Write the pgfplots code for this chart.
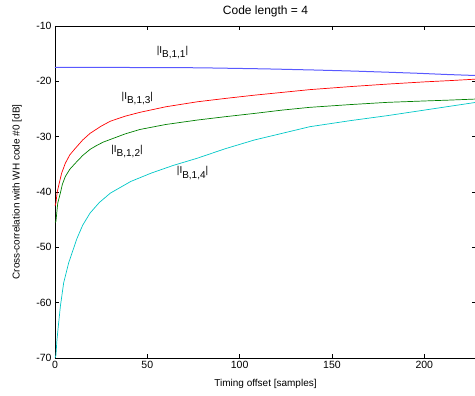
\documentclass[border=0pt]{standalone}
\usepackage{pgfplots}
\pgfplotsset{compat=1.18}
\usepackage{fontspec}
\setmainfont{Liberation Sans}
\definecolor{mblue}{rgb}{0.35,0.35,1}
\definecolor{mgreen}{rgb}{0,0.5,0}
\definecolor{mred}{rgb}{1,0,0}
\definecolor{mcyan}{rgb}{0,0.78,0.78}
\newcommand{\lab}[1]{|I\raisebox{-0.45em}{#1}|}
\begin{document}
\begin{tikzpicture}
\begin{axis}[
  width=421pt, height=332pt, scale only axis,
  xmin=0, xmax=228, ymin=-70, ymax=-10,
  xtick={0,50,100,150,200},
  ytick={-70,-60,-50,-40,-30,-20,-10},
  tick align=inside,
  major tick length=4pt,
  tick style={black, line width=0.5pt},
  axis line style={black, line width=0.8pt},
  /pgf/number format/assume math mode=true,
  ticklabel style={font=\fontsize{10.5}{12}\selectfont},
  every axis title shift=0pt,
  title={Code length = 4},
  title style={at={(axis description cs:0.5,1.045)}, anchor=center, font=\fontsize{12}{14}\selectfont},
  xlabel={Timing offset [samples]},
  xlabel style={at={(axis description cs:0.5,-0.078)}, anchor=center, font=\fontsize{10}{12}\selectfont},
  ylabel={Cross-correlation with WH code \#0 [dB]},
  ylabel style={at={(axis description cs:-0.09,0.5)}, anchor=center, rotate=0, font=\fontsize{10}{12}\selectfont},
  every axis plot/.append style={line width=0.7pt},
]
\addplot[mblue, line width=1pt] coordinates {
(0,-17.5) (40,-17.5) (78,-17.55) (114,-17.75) (140,-17.95) (162,-18.15) (180,-18.35) (197,-18.55) (211,-18.75) (228,-18.95)
};
\addplot[mgreen] coordinates {
(0,-45.5) (0.5,-45.3) (1.5,-42) (2.9,-40.2) (4,-38.6) (5.6,-37.2) (8,-35.9) (11,-34.8) (15,-33.4) (19,-32.3) (22,-31.7) (26,-31.0) (30,-30.5) (38,-29.5) (46,-28.7) (60,-27.8) (77,-27.0) (92,-26.4) (108,-25.8) (123,-25.2) (138,-24.7) (160,-24.2) (180,-23.8) (200,-23.55) (213,-23.4) (228,-23.2)
};
\addplot[mred] coordinates {
(0,-42.5) (0.5,-42) (1.2,-40) (2.3,-38.4) (3.6,-36.6) (5.6,-34.8) (8,-33.3) (10.5,-32.3) (15,-30.6) (19,-29.4) (25,-28.1) (30,-27.2) (38,-26.3) (46,-25.6) (60,-24.6) (77,-23.7) (92,-23.1) (108,-22.5) (123,-22.0) (138,-21.5) (160,-20.95) (180,-20.5) (200,-20.1) (215,-19.85) (228,-19.6)
};
\addplot[mcyan] coordinates {
(0,-70) (0.5,-69.5) (1,-67) (1.6,-64.9) (2.9,-60.7) (4.7,-56.4) (7.4,-52.8) (11.9,-48.4) (15,-46) (19,-43.8) (24,-41.9) (30,-40.2) (41,-38.1) (52,-36.6) (64,-35.2) (77,-33.9) (92,-32.2) (108,-30.6) (123,-29.4) (138,-28.2) (160,-27.1) (180,-26.2) (200,-25.2) (214,-24.5) (228,-23.8)
};
\node[font=\fontsize{10}{12}\selectfont] at (axis cs:63.6,-14.8) {\lab{B,1,1}};
\node[font=\fontsize{10}{12}\selectfont] at (axis cs:44.6,-23.1) {\lab{B,1,3}};
\node[font=\fontsize{10}{12}\selectfont] at (axis cs:39,-32.7) {\lab{B,1,2}};
\node[font=\fontsize{10}{12}\selectfont] at (axis cs:74.5,-36.6) {\lab{B,1,4}};
\coordinate (bl) at (rel axis cs:0,0);
\coordinate (tr) at (rel axis cs:1,1);
\end{axis}
\pgfresetboundingbox
\path[use as bounding box] ([shift={(-55pt,-38pt)}]bl) rectangle ([shift={(-1pt,26pt)}]tr);
\end{tikzpicture}
\end{document}
